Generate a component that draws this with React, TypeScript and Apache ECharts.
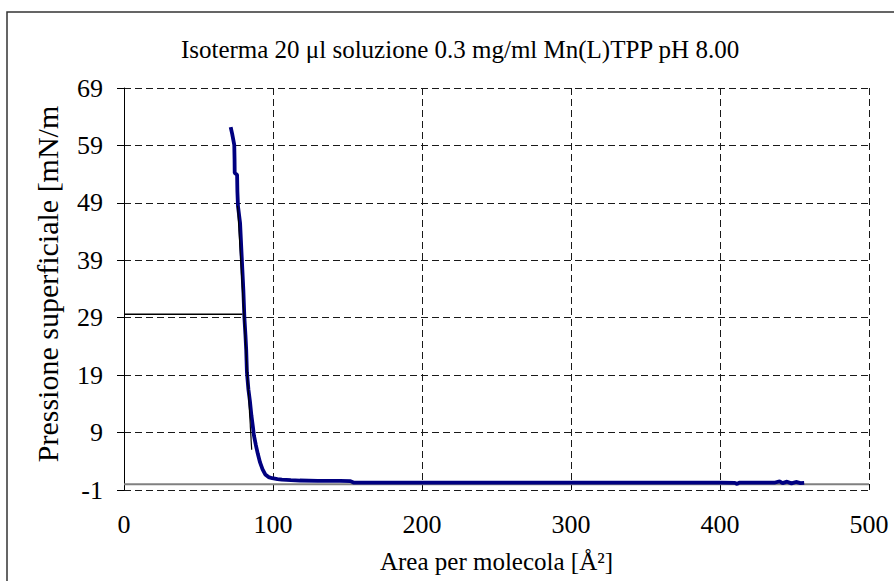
import React, { useEffect, useRef } from "react";
import * as echarts from "echarts";

// Langmuir isotherm: molecular area [Å²] vs surface pressure [mN/m]
const areaValues = [
  71.6, 72.6, 74.0, 74.2, 74.3, 75.9, 76.1, 76.5, 77.9, 79.0, 80.1, 80.8,
  81.5, 82.0, 82.5, 83.5, 84.5, 85.5, 86.5, 87.2, 88.5, 89.8, 91.3, 93.0,
  94.8, 97.0, 99.5, 103.0, 106.0, 112.0, 118.0, 130.0, 145.0, 152.0, 154.0,
  200.0, 250.0, 300.0, 350.0, 400.0, 410.0, 411.5, 413.0, 420.0, 437.0,
  440.0, 442.0, 445.0, 448.0, 451.0, 454.0, 456.5,
];
const pressureValues = [
  62.2, 61.0, 59.1, 56.5, 54.2, 53.9, 51.0, 48.4, 45.5, 39.6, 33.8, 29.0,
  26.0, 23.5, 19.5, 16.5, 14.5, 12.0, 10.0, 8.5, 6.8, 5.3, 3.8, 2.6,
  1.7, 1.25, 1.05, 0.9, 0.8, 0.72, 0.65, 0.6, 0.6, 0.55, 0.3,
  0.3, 0.3, 0.3, 0.3, 0.28, 0.25, 0.05, 0.28, 0.28, 0.3,
  0.5, 0.2, 0.45, 0.15, 0.4, 0.2, 0.25,
];

// tangent to the condensed phase, and the read-off level on the pressure axis
const tangentArea = [76.2, 85.7];
const tangentPressure = [48.5, 6.0];
const levelArea = [0, 79.5];
const levelPressure = [29.6, 29.6];

// zero-pressure baseline
const baselineArea = [0, 500];
const baselinePressure = [0, 0];

const xMin = 0;
const xMax = 500;
const xStep = 100;
const yMin = -1;
const yMax = 69;
const yStep = 10;

const TITLE = "Isoterma 20 \u03bcl soluzione 0.3 mg/ml Mn(L)TPP pH 8.00";
const X_NAME = "Area per molecola [\u00c5\u00b2]";
const Y_NAME = "Pressione superficiale [mN/m";

const FONT = "Liberation Serif";

const zip = (xs: number[], ys: number[]) => xs.map((x, i) => [x, ys[i]]);

export default function App() {
  const ref = useRef<HTMLDivElement>(null);

  useEffect(() => {
    if (!ref.current) return;
    const chart = echarts.init(ref.current, undefined, { renderer: "svg" });

    const dashed = { color: "#1a1a1a", width: 1, type: [7, 4] as number[] };

    chart.setOption({
      animation: false,
      backgroundColor: "#fff",
      textStyle: { fontFamily: FONT, color: "#000" },
      title: {
        text: TITLE,
        left: 455,
        top: 32,
        textAlign: "center",
        textStyle: {
          fontFamily: FONT,
          fontSize: 25,
          fontWeight: "normal",
          color: "#000",
        },
      },
      graphic: [
        {
          type: "rect",
          shape: { x: 7, y: 12, width: 900, height: 600 },
          style: { fill: "none", stroke: "#333", lineWidth: 1.5 },
          silent: true,
        },
        {
          // pressure axis title, rotated to read bottom-up
          type: "text",
          x: 47,
          y: 284,
          rotation: Math.PI / 2,
          silent: true,
          style: {
            text: Y_NAME,
            fontFamily: FONT,
            fontSize: 30,
            fill: "#000",
            align: "center",
            verticalAlign: "middle",
          },
        },
      ],
      grid: {
        left: 124,
        right: 25,
        top: 88,
        bottom: 91,
        containLabel: false,
        outerBoundsMode: "none",
      },
      xAxis: {
        type: "value",
        min: xMin,
        max: xMax,
        interval: xStep,
        position: "bottom",
        name: X_NAME,
        nameLocation: "middle",
        nameGap: 59,
        nameTextStyle: { fontFamily: FONT, fontSize: 25, color: "#000" },
        axisLine: { show: false },
        axisTick: { show: true, length: 4, lineStyle: { color: "#000" } },
        axisLabel: { fontFamily: FONT, fontSize: 26, color: "#000", margin: 21 },
        splitLine: { show: true, lineStyle: dashed },
      },
      yAxis: {
        type: "value",
        min: yMin,
        max: yMax,
        interval: yStep,
        axisLine: { show: true, onZero: false, lineStyle: { color: "#000", width: 1 } },
        axisTick: { show: true, length: 7, lineStyle: { color: "#000" } },
        axisLabel: { fontFamily: FONT, fontSize: 26, color: "#000", margin: 21 },
        splitLine: { show: true, lineStyle: dashed },
      },
      series: [
        {
          type: "line",
          data: zip(baselineArea, baselinePressure),
          symbol: "none",
          lineStyle: { color: "#808080", width: 2 },
          z: 1,
        },
        {
          type: "line",
          data: zip(areaValues, pressureValues),
          symbol: "none",
          lineStyle: { color: "#000080", width: 3.8 },
          z: 2,
        },
        {
          type: "line",
          data: zip(tangentArea, tangentPressure),
          symbol: "none",
          lineStyle: { color: "#000", width: 1.2 },
          z: 3,
        },
        {
          type: "line",
          data: zip(levelArea, levelPressure),
          symbol: "none",
          lineStyle: { color: "#000", width: 1.5 },
          z: 3,
        },
      ],
    });

    return () => chart.dispose();
  }, []);

  return (
    <div
      ref={ref}
      style={{ position: "absolute", left: 0, top: 0, width: 894, height: 581 }}
    />
  );
}
